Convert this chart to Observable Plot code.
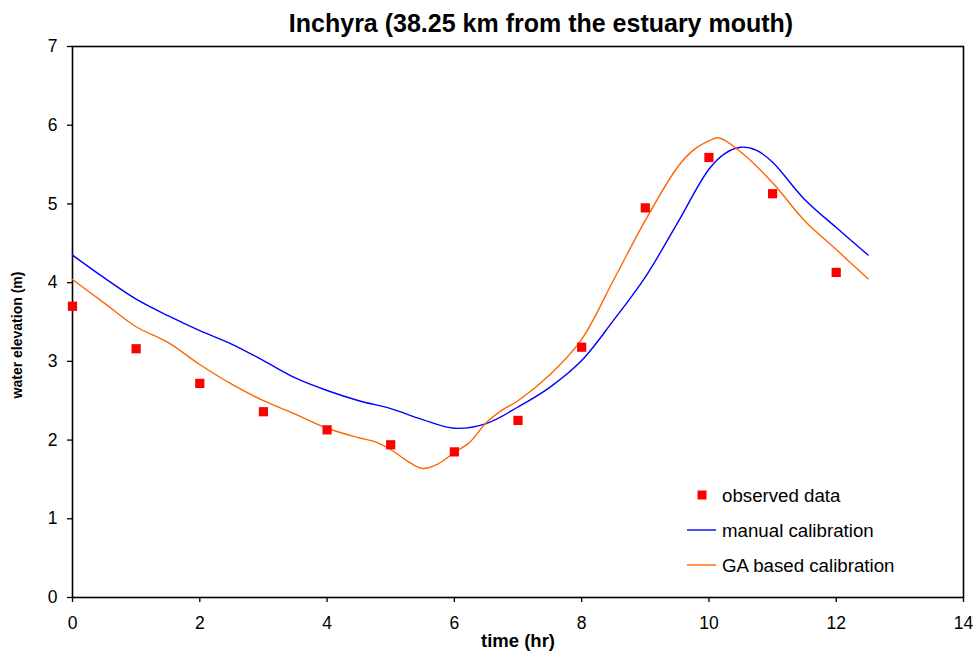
<!DOCTYPE html>
<html>
<head>
<meta charset="utf-8">
<script src="https://cdn.jsdelivr.net/npm/d3@7"></script>
<script src="https://cdn.jsdelivr.net/npm/@observablehq/plot@0.6"></script>
<style>
  body { margin: 0; background: #fff; font-family: "Liberation Sans", Arial, sans-serif; }
  #wrap { position: relative; width: 980px; height: 656px; overflow: hidden; }
  #title { position: relative; z-index: 2; width: 980px; height: 30px; line-height: 46px; font-size: 25px; font-weight: bold;
           text-align: center; padding-left: 102px; box-sizing: border-box; color: #000; white-space: nowrap; overflow: visible; }
  #overlay { position: absolute; left: 0; top: 0; pointer-events: none; }
  g[aria-label="x-axis label"] text { font-size: 18.5px; font-weight: bold; }
</style>
</head>
<body>
<div id="wrap">
  <div id="title"></div>
  <div id="chart"></div>
</div>
<script>
// ---------- data ----------
const titleText = "Inchyra (38.25 km from the estuary mouth)";
const xLabel = "time (hr)";
const yLabel = "water elevation (m)";
const xTicks = [0, 2, 4, 6, 8, 10, 12, 14];
const yTicks = [0, 1, 2, 3, 4, 5, 6, 7];
const seriesNames = ["observed data", "manual calibration", "GA based calibration"];
const seriesColors = ["#ff0000", "#0000ff", "#ff6600"];

const obsTime = [0, 1, 2, 3, 4, 5, 6, 7, 8, 9, 10, 11, 12];
const obsElev = [3.70, 3.16, 2.72, 2.36, 2.13, 1.94, 1.85, 2.25, 3.18, 4.95, 5.59, 5.13, 4.13];

const manualTime = [0, 0.5, 1, 1.5, 2, 2.5, 3, 3.5, 4, 4.5, 5, 5.5, 6, 6.5, 7, 7.5, 8, 8.5, 9, 9.5, 10, 10.25, 10.5, 10.75, 11, 11.5, 12, 12.5];
const manualElev = [4.35, 4.06, 3.79, 3.58, 3.39, 3.22, 3.01, 2.79, 2.63, 2.50, 2.40, 2.26, 2.15, 2.21, 2.42, 2.67, 3.01, 3.52, 4.07, 4.75, 5.44, 5.64, 5.72, 5.68, 5.53, 5.06, 4.70, 4.35];

const gaTime = [0, 0.5, 1, 1.5, 2, 2.5, 3, 3.5, 4, 4.5, 4.75, 5, 5.25, 5.5, 5.75, 6, 6.25, 6.5, 6.75, 7, 7.5, 8, 8.5, 9, 9.5, 9.75, 10, 10.15, 10.5, 11, 11.5, 12, 12.5];
const gaElev = [4.04, 3.74, 3.44, 3.24, 2.96, 2.71, 2.50, 2.33, 2.15, 2.03, 1.98, 1.88, 1.74, 1.64, 1.70, 1.84, 1.98, 2.22, 2.38, 2.50, 2.83, 3.28, 4.03, 4.79, 5.46, 5.68, 5.80, 5.84, 5.66, 5.27, 4.79, 4.42, 4.05];

// ---------- tables ----------
const obs = obsTime.map((t, i) => ({t, v: obsElev[i]}));
const manual = manualTime.map((t, i) => ({t, v: manualElev[i]}));
const ga = gaTime.map((t, i) => ({t, v: gaElev[i]}));

document.getElementById("title").textContent = titleText;

const font = '"Liberation Sans", Arial, sans-serif';
const chart = Plot.plot({
  width: 980,
  height: 626,
  marginTop: 16,
  marginBottom: 59,
  marginLeft: 72,
  marginRight: 17,
  style: {fontFamily: font, fontSize: "17.5px", color: "#000", background: "transparent", overflow: "visible"},
  x: {domain: [0, 14]},
  y: {domain: [0, 7]},
  marks: [
    Plot.axisX({ticks: xTicks, tickSize: 5, tickPadding: 14, tickFormat: d => String(d),
                label: xLabel, labelAnchor: "center", labelArrow: "none", labelOffset: 49, strokeWidth: 1.3}),
    Plot.axisY({ticks: yTicks, tickSize: 5, tickPadding: 10, tickFormat: d => String(d), label: null, strokeWidth: 1.3}),
    Plot.frame({stroke: "#000", strokeWidth: 1.6}),
    Plot.line(manual, {x: "t", y: "v", stroke: seriesColors[1], strokeWidth: 1.4, curve: "catmull-rom"}),
    Plot.line(ga, {x: "t", y: "v", stroke: seriesColors[2], strokeWidth: 1.4, curve: "catmull-rom"}),
    Plot.dot(obs, {x: "t", y: "v", symbol: "square", r: 5.2, fill: seriesColors[0], stroke: "none"})
  ]
});
chart.style.marginTop = "0";
document.getElementById("chart").appendChild(chart);

// ---------- overlay: y label and legend ----------
const ns = "http://www.w3.org/2000/svg";
const ov = document.createElementNS(ns, "svg");
ov.setAttribute("id", "overlay");
ov.setAttribute("width", 980);
ov.setAttribute("height", 656);
ov.setAttribute("font-family", font);
document.getElementById("wrap").appendChild(ov);

const yl = document.createElementNS(ns, "text");
yl.setAttribute("transform", "translate(22,335) rotate(-90)");
yl.setAttribute("text-anchor", "middle");
yl.setAttribute("font-weight", "bold");
yl.setAttribute("font-size", 14);
yl.textContent = yLabel;
ov.appendChild(yl);

const legX = 687, legY0 = 495, legStep = 35;
seriesNames.forEach((name, i) => {
  const cy = legY0 + i * legStep;
  if (i === 0) {
    const r = document.createElementNS(ns, "rect");
    r.setAttribute("x", legX + 15 - 4.5); r.setAttribute("y", cy - 4.5);
    r.setAttribute("width", 9); r.setAttribute("height", 9);
    r.setAttribute("fill", seriesColors[i]);
    ov.appendChild(r);
  } else {
    const l = document.createElementNS(ns, "line");
    l.setAttribute("x1", legX); l.setAttribute("x2", legX + 29);
    l.setAttribute("y1", cy); l.setAttribute("y2", cy);
    l.setAttribute("stroke", seriesColors[i]); l.setAttribute("stroke-width", 1.4);
    ov.appendChild(l);
  }
  const t = document.createElementNS(ns, "text");
  t.setAttribute("x", legX + 35); t.setAttribute("y", cy + 6.5);
  t.setAttribute("font-size", 18.7);
  t.textContent = name;
  ov.appendChild(t);
});
</script>
</body>
</html>
